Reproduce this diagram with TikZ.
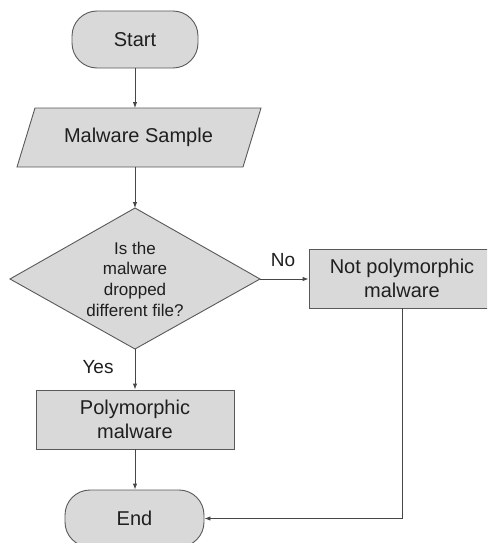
\documentclass[tikz,border=0pt]{standalone}
\usepackage{fontspec}
\setmainfont{Liberation Sans}
\usetikzlibrary{arrows.meta}
\definecolor{boxfill}{HTML}{D9D9D9}
\definecolor{boxline}{HTML}{595959}
\definecolor{txt}{HTML}{1F1F1F}
\begin{document}
\begin{tikzpicture}[x=1pt,y=-1pt,
  shapebox/.style={draw=boxline,fill=boxfill,line width=0.9pt,text=txt,inner sep=0pt,align=center,font=\fontsize{20}{23.5}\selectfont},
  termbox/.style={shapebox,rounded corners=25pt},
  conn/.style={draw=boxline!80!black,line width=0.9pt,-{Latex[length=6pt,width=4.5pt]}},
  lbl/.style={text=txt,font=\fontsize{19}{22}\selectfont,inner sep=0pt}]
\clip (0,0) rectangle (487,543);
\fill[white] (0,0) rectangle (487,543);
% Start
\node[termbox,minimum width=126pt,minimum height=57pt] (start) at (135,39.5) {Start};
% Malware sample parallelogram
\draw[draw=boxline,fill=boxfill,line width=0.9pt] (35,108) -- (261,108) -- (243,167) -- (17,167) -- cycle;
\node[text=txt,font=\fontsize{20}{23.5}\selectfont,inner sep=0pt] (sample) at (138.5,137.5) {Malware Sample};
\coordinate (sampletop) at (135,108);
\coordinate (samplebot) at (135,167);
% Decision diamond
\draw[draw=boxline,fill=boxfill,line width=0.9pt] (135,208) -- (260,279) -- (135,349) -- (10,279) -- cycle;
\coordinate (qtop) at (135,208);
\coordinate (qright) at (260,279);
\coordinate (qbot) at (135,349);
\node[text=txt,align=center,inner sep=0pt,font=\fontsize{17}{20.7}\selectfont] (q) at (135,279) {Is the\\malware\\dropped\\different file?};
% Not polymorphic
\node[shapebox,minimum width=186pt,minimum height=59pt] (notpoly) at (402,278.5) {Not polymorphic\\malware};
% Polymorphic
\node[shapebox,minimum width=198pt,minimum height=59pt] (poly) at (135,419.5) {Polymorphic\\malware};
% End
\node[termbox,minimum width=139pt,minimum height=57pt] (end) at (134.5,518.5) {End};
% connectors
\draw[conn] (start.south) -- (sampletop);
\draw[conn] (samplebot) -- (qtop);
\draw[conn] (qright) -- (notpoly.west |- qright);
\draw[conn] (qbot) -- (poly.north);
\draw[conn] (poly.south) -- (poly.south |- end.north);
\draw[conn] (notpoly.south) |- (end.east);
% labels
\node[lbl] (no) at (283,260) {No};
\node[lbl] (yes) at (98,367) {Yes};
\end{tikzpicture}
\end{document}
